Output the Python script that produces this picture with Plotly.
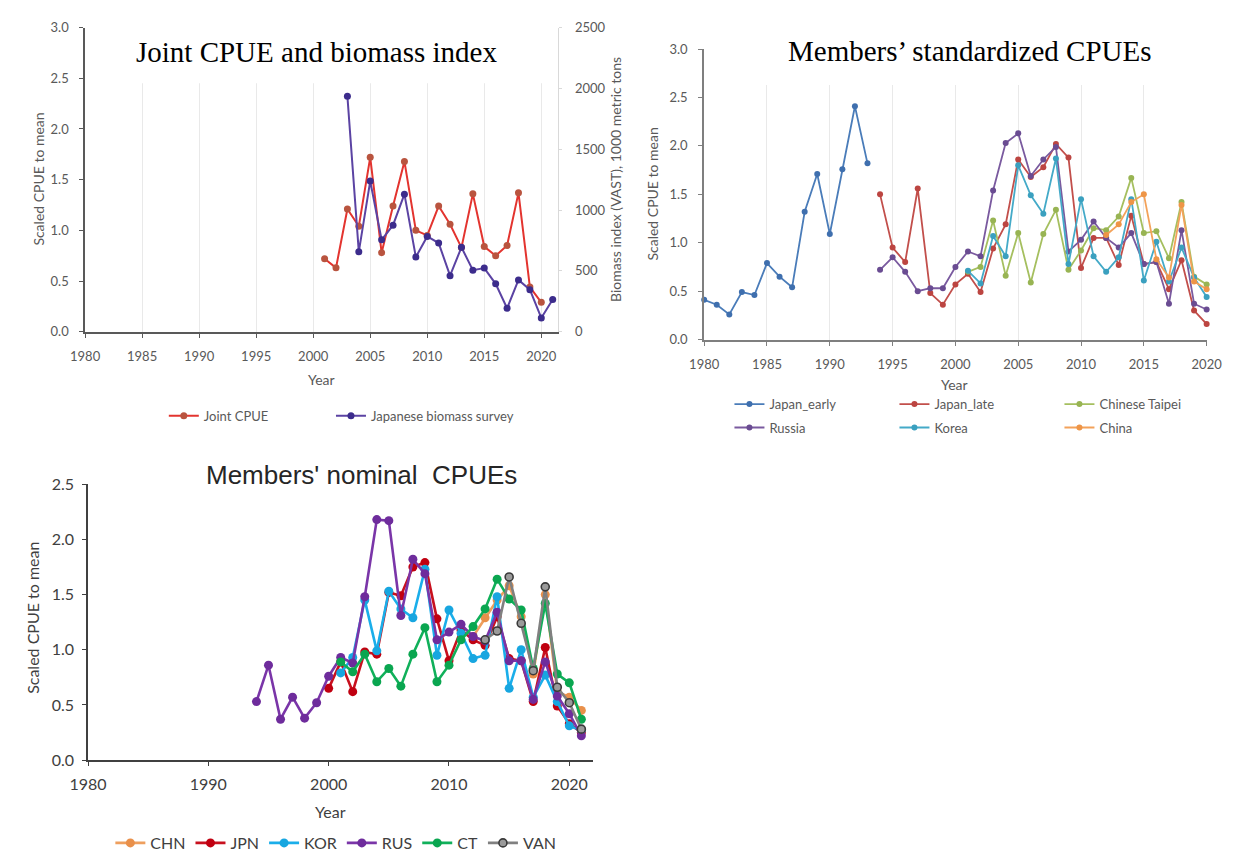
import plotly.graph_objects as go

W, H = 1245, 860

# ---- Joint CPUE and biomass index ----
joint_years = list(range(2001, 2021))
joint_cpue = [0.72, 0.63, 1.21, 1.04, 1.72, 0.78, 1.24, 1.68, 1.00, 0.95,
              1.24, 1.06, 0.83, 1.36, 0.84, 0.75, 0.85, 1.37, 0.44, 0.29]
biomass_years = list(range(2003, 2022))
biomass_index = [1935, 657, 1238, 756, 876, 1131, 614, 783, 729, 461,
                 694, 506, 523, 394, 193, 426, 346, 113, 265]

# ---- Members' standardized CPUEs ----
japan_early_years = list(range(1980, 1994))
japan_early = [0.41, 0.36, 0.26, 0.49, 0.46, 0.79, 0.65, 0.54, 1.32, 1.71,
               1.09, 1.76, 2.41, 1.82]
japan_late_years = list(range(1994, 2021))
japan_late = [1.50, 0.95, 0.80, 1.56, 0.48, 0.36, 0.57, 0.68, 0.49, 0.94,
              1.19, 1.86, 1.68, 1.78, 2.02, 1.88, 0.74, 1.05, 1.05, 0.77,
              1.28, 0.78, 0.80, 0.52, 0.82, 0.30, 0.16]
russia_std_years = list(range(1994, 2021))
russia_std = [0.72, 0.85, 0.70, 0.50, 0.53, 0.53, 0.75, 0.91, 0.86, 1.54,
              2.03, 2.13, 1.69, 1.86, 1.99, 0.91, 1.03, 1.22, 1.05, 0.95,
              1.10, 0.78, 0.80, 0.37, 1.13, 0.37, 0.31]
taipei_std_years = list(range(2001, 2021))
taipei_std = [0.70, 0.75, 1.23, 0.66, 1.10, 0.59, 1.09, 1.34, 0.72, 0.92,
              1.15, 1.13, 1.27, 1.67, 1.10, 1.12, 0.84, 1.42, 0.65, 0.57]
korea_std_years = list(range(2001, 2021))
korea_std = [0.71, 0.58, 1.07, 0.86, 1.80, 1.49, 1.30, 1.87, 0.78, 1.45,
             0.86, 0.70, 0.85, 1.45, 0.61, 1.01, 0.60, 0.95, 0.64, 0.44]
china_std_years = list(range(2012, 2021))
china_std = [1.08, 1.19, 1.42, 1.50, 0.83, 0.64, 1.39, 0.60, 0.52]

# ---- Members' nominal CPUEs ----
chn_years = list(range(2012, 2022))
chn_nom = [1.12, 1.29, 1.45, 1.58, 1.30, 0.78, 1.50, 0.62, 0.57, 0.45]
jpn_years = list(range(2000, 2022))
jpn_nom = [0.65, 0.89, 0.62, 0.98, 0.96, 1.52, 1.49, 1.75, 1.79, 1.28,
           0.90, 1.18, 1.09, 1.04, 1.30, 0.92, 0.90, 0.53, 1.02, 0.49,
           0.33, 0.25]
kor_years = list(range(2001, 2022))
kor_nom = [0.79, 0.93, 1.45, 0.99, 1.53, 1.37, 1.29, 1.73, 0.95, 1.36,
           1.15, 0.92, 0.95, 1.48, 0.65, 1.00, 0.57, 0.77, 0.53, 0.31, 0.27]
rus_years = list(range(1994, 2022))
rus_nom = [0.53, 0.86, 0.37, 0.57, 0.38, 0.52, 0.76, 0.93, 0.88, 1.48,
           2.18, 2.17, 1.31, 1.82, 1.69, 1.09, 1.16, 1.23, 1.12, 1.08,
           1.34, 0.90, 0.90, 0.55, 0.89, 0.58, 0.42, 0.22]
ct_years = list(range(2001, 2022))
ct_nom = [0.89, 0.80, 0.96, 0.71, 0.83, 0.67, 0.96, 1.20, 0.71, 0.86,
          1.09, 1.21, 1.37, 1.64, 1.46, 1.36, 0.83, 1.42, 0.78, 0.70, 0.37]
van_years = list(range(2013, 2022))
van_nom = [1.09, 1.17, 1.66, 1.24, 0.81, 1.57, 0.66, 0.52, 0.28]

five_year_ticks = list(range(1980, 2021, 5))
ten_year_ticks = list(range(1980, 2021, 10))


def px_x(p):
    return p / W


def px_y(p):
    return 1 - p / H


SANS = "Lato, 'Open Sans', sans-serif"
GREY = "#595959"
small_font = dict(family=SANS, size=13, color=GREY)
big_font = dict(family=SANS, size=16, color="#404040")

fig = go.Figure()


def add_series(x, y, name, line_color, marker_color, xa, ya, legend,
               width=1.8, size=6, marker_line=None):
    marker = dict(color=marker_color, size=size, line=dict(width=0))
    if marker_line:
        marker["line"] = dict(color=marker_line, width=1.6)
    fig.add_trace(go.Scatter(
        x=x, y=y, name=name, mode="lines+markers",
        line=dict(color=line_color, width=width),
        marker=marker, xaxis=xa, yaxis=ya, legend=legend,
        cliponaxis=False))


# Joint CPUE (left axis) and biomass survey (right axis)
add_series(joint_years, joint_cpue, "Joint CPUE", "#E3342F", "#B9543F",
           "x", "y", "legend", width=2, size=7)
add_series(biomass_years, biomass_index, "Japanese biomass survey",
           "#5B43A3", "#3C2C8C", "x", "y2", "legend5", width=2, size=7)

# Standardized CPUEs
add_series(japan_early_years, japan_early, "Japan_early", "#4A7CB9", "#3F6FAE",
           "x2", "y3", "legend2")
add_series(japan_late_years, japan_late, "Japan_late", "#C24F4B", "#BC4541",
           "x2", "y3", "legend2")
add_series(taipei_std_years, taipei_std, "Chinese Taipei", "#A5BF5F", "#98B453",
           "x2", "y3", "legend2")
add_series(russia_std_years, russia_std, "Russia", "#7A5A9F", "#6A4C92",
           "x2", "y3", "legend4")
add_series(korea_std_years, korea_std, "Korea", "#44AAC8", "#3AA0BF",
           "x2", "y3", "legend4")
add_series(china_std_years, china_std, "China", "#F3A25A", "#EE9547",
           "x2", "y3", "legend4")

# Nominal CPUEs
add_series(chn_years, chn_nom, "CHN", "#EE9F5E", "#E9904A", "x3", "y4",
           "legend3", width=2.6, size=9)
add_series(jpn_years, jpn_nom, "JPN", "#C8101E", "#C00010", "x3", "y4",
           "legend3", width=2.6, size=9)
add_series(kor_years, kor_nom, "KOR", "#1AAEEA", "#17A6E0", "x3", "y4",
           "legend3", width=2.6, size=9)
add_series(rus_years, rus_nom, "RUS", "#7A35A8", "#6E2C9C", "x3", "y4",
           "legend3", width=2.6, size=9)
add_series(ct_years, ct_nom, "CT", "#10B05A", "#0AA650", "x3", "y4",
           "legend3", width=2.6, size=9)
add_series(van_years, van_nom, "VAN", "#808080", "#9A9A9A", "x3", "y4",
           "legend3", width=2.6, size=8, marker_line="#3A3A3A")


def x_axis(domain, rng, ticks, anchor, line_color, lw, font, grid, standoff):
    return dict(domain=domain, range=rng, anchor=anchor, tickmode="array",
                tickvals=ticks, showgrid=grid, gridcolor="#e9e9e9", gridwidth=1,
                showline=True, linecolor=line_color, linewidth=lw,
                ticks="outside", ticklen=4, tickcolor=line_color, tickwidth=1,
                tickfont=font, zeroline=False, ticklabelstandoff=standoff)


def y_axis(domain, rng, anchor, line_color, lw, font, standoff):
    return dict(domain=domain, range=rng, anchor=anchor, dtick=0.5,
                tickformat=".1f", showgrid=False, showline=True,
                linecolor=line_color, linewidth=lw, ticks="outside", ticklen=4,
                tickcolor=line_color, tickwidth=1, tickfont=font,
                zeroline=False, ticklabelstandoff=standoff)


def legend_at(x, y, font, entrywidth=0):
    spec = dict(x=px_x(x), y=px_y(y), xanchor="left", yanchor="middle",
                orientation="h", itemwidth=30, font=font,
                bgcolor="rgba(0,0,0,0)")
    if entrywidth:
        spec.update(entrywidth=entrywidth, entrywidthmode="pixels")
    return spec


fig.update_layout(
    width=W, height=H,
    margin=dict(l=0, r=0, t=0, b=0),
    paper_bgcolor="white", plot_bgcolor="white",
    xaxis=x_axis([px_x(68), px_x(555)], [1980, 2021.5], five_year_ticks,
                 "y", GREY, 1.6, small_font, True, 8),
    yaxis=y_axis([px_y(329), px_y(18)], [0, 3], "x", GREY, 1.6, small_font, 8),
    yaxis2=dict(overlaying="y", side="right", anchor="x", range=[0, 2500],
                dtick=500, showgrid=False, showline=True, linecolor="#d9d9d9",
                linewidth=1, ticks="outside", ticklen=3, tickcolor="#d9d9d9",
                tickfont=small_font, zeroline=False, ticklabelstandoff=10),
    xaxis2=x_axis([px_x(705), px_x(1222)], [1980, 2020], five_year_ticks,
                  "y3", "#7f7f7f", 2, small_font, True, 8),
    yaxis3=y_axis([px_y(337), px_y(40)], [0, 3], "x2", "#7f7f7f", 2,
                  small_font, 8),
    xaxis3=x_axis([px_x(71), px_x(591)], [1980, 2022], ten_year_ticks,
                  "y4", "#404040", 1.6, big_font, False, 5),
    yaxis4=y_axis([px_y(767), px_y(485)], [0, 2.5], "x3", "#404040", 1.6,
                  big_font, 5),
    showlegend=True,
    legend=legend_at(149, 415, small_font),
    legend5=legend_at(321, 415, small_font),
    legend2=legend_at(731, 403, small_font, 120),
    legend4=legend_at(731, 427, small_font, 120),
    legend3=legend_at(94, 852, big_font),
)

# Title boxes sit over the top of the vertical gridlines
fig.add_shape(type="rect", xref="x", yref="y", x0=1980.3, x1=2021.3,
              y0=2.45, y1=3.0, fillcolor="white", line=dict(width=0),
              layer="between")
fig.add_shape(type="rect", xref="x2", yref="y3", x0=1980.3, x1=2019.8,
              y0=2.63, y1=3.0, fillcolor="white", line=dict(width=0),
              layer="between")

SERIF = "'Liberation Serif', 'Times New Roman', serif"


def label(text, x, y, font, angle=0):
    fig.add_annotation(text=text, x=px_x(x), y=px_y(y), xref="paper",
                       yref="paper", showarrow=False, xanchor="center",
                       yanchor="middle", textangle=angle, font=font)


axis_title_font = dict(family=SANS, size=14, color=GREY)

label("Joint CPUE and biomass index", 306, 43,
      dict(family=SERIF, size=29, color="black"))
label("Scaled CPUE to mean", 20, 173, axis_title_font, -90)
label("Biomass index (VAST), 1000 metric tons", 613, 173, axis_title_font, -90)
label("Year", 311, 378, axis_title_font)

label("Members\u2019 standardized CPUEs", 978, 42,
      dict(family=SERIF, size=29, color="black"))
label("Scaled CPUE to mean", 652, 188, axis_title_font, -90)
label("Year", 963, 383, axis_title_font)

label("Members' nominal\u00a0 CPUEs", 352, 475,
      dict(family="'Liberation Sans', Arial, sans-serif", size=26,
           color="#262626"))
label("Scaled CPUE to mean", 14, 622, dict(family=SANS, size=16, color="#404040"),
      -90)
label("Year", 320, 820, dict(family=SANS, size=16, color="#404040"))

fig.write_html("out.html")
